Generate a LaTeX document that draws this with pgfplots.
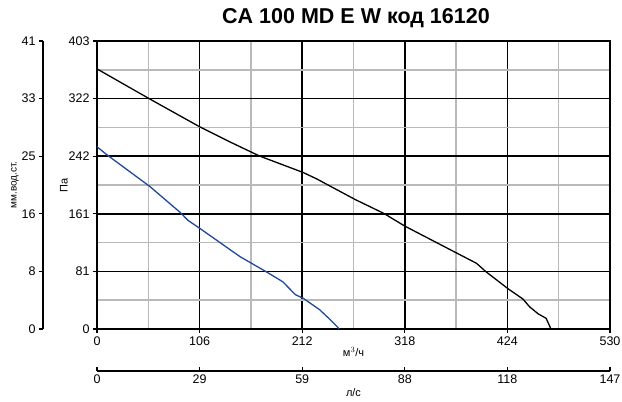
\documentclass[border=0pt]{standalone}
\usepackage{pgfplots}
\pgfplotsset{compat=1.18}
\usepackage{fontspec}
\setmainfont{Liberation Sans}
\definecolor{curveblue}{RGB}{30,72,158}
\definecolor{gridgray}{RGB}{185,185,185}

\pgfplotsset{
  every axis/.append style={
    scale only axis,
    /pgf/number format/assume math mode=true,
    tick label style={font=\fontsize{12.5pt}{14pt}\selectfont},
    major tick length=4pt,
    tick style={black, line width=1.3pt},
  },
}

\begin{document}
\begin{tikzpicture}
\path[use as bounding box] (0pt,0pt) rectangle (622pt,402pt);

\node[font=\fontsize{21.5pt}{24pt}\selectfont\bfseries] at (356pt,384pt) {CA 100 MD E W код 16120};

% left scale, mm water column
\begin{axis}[
  at={(43pt,73pt)}, anchor=south west,
  width=1pt, height=288pt,
  xmin=0, xmax=1, ymin=0, ymax=41,
  axis x line=none, axis y line=left,
  axis line style={line width=2pt, -},
  ytick={0,8.2,16.4,24.6,32.8,41},
  yticklabels={0,8,16,25,33,41},
  tick align=outside,
  ylabel={мм.вод.ст.},
  ylabel style={at={([xshift=-28pt]axis description cs:0,0.5)}, anchor=center,
    font=\fontsize{10pt}{12pt}\selectfont},
]
\end{axis}

% main chart
\begin{axis}[
  at={(97pt,73pt)}, anchor=south west,
  width=513pt, height=288pt,
  xmin=0, xmax=530, ymin=0, ymax=403,
  xtick={0,106,212,318,424,530},
  xticklabels={0,106,212,318,424,530},
  ytick={0,80.6,161.2,241.8,322.4,403},
  yticklabels={0,81,161,242,322,403},
  minor xtick={53,159,265,371,477},
  minor ytick={40.3,120.9,201.5,282.1,362.7},
  minor tick length=0pt,
  xtick pos=bottom, ytick pos=left,
  tick align=outside,
  grid=both,
  major grid style={black, line width=1.5pt},
  minor grid style={gridgray, line width=1.6pt},
  axis line style={line width=2pt},
  xlabel={м$^3$/ч},
  xlabel style={font=\fontsize{11pt}{13pt}\selectfont, yshift=5pt},
  ylabel={Па},
  ylabel style={at={([xshift=-33pt]axis description cs:0,0.5)}, anchor=center,
    font=\fontsize{11pt}{13pt}\selectfont},
]
\addplot[black, line width=1.3pt] coordinates {
  (0,364) (53,323) (106,283) (137,262) (168,242) (213,219) (227,210)
  (267,181) (296,162) (318,144) (372,106) (392,92) (402,80) (425,56)
  (440,42) (447,31) (456,21) (464,15) (469,0)
};
\addplot[curveblue, line width=1.3pt] coordinates {
  (0,255) (10,244) (55,199) (86,163) (94,152) (106,141) (148,101)
  (175,80) (192,66) (205,48) (213,43) (230,27) (241,13) (249,2) (250,0)
};
\end{axis}

% bottom scale, l/s
\begin{axis}[
  at={(97pt,31pt)}, anchor=south west,
  width=513pt, height=10pt,
  xmin=0, xmax=147, ymin=0, ymax=1,
  axis y line=none, axis x line=bottom,
  axis line style={line width=2pt, -},
  xtick={0,29.4,58.8,88.2,117.6,147},
  xticklabels={0,29,59,88,118,147},
  tick align=inside,
  xlabel={л/с},
  xlabel style={font=\fontsize{11pt}{13pt}\selectfont, yshift=2pt},
]
\end{axis}
\end{tikzpicture}
\end{document}
